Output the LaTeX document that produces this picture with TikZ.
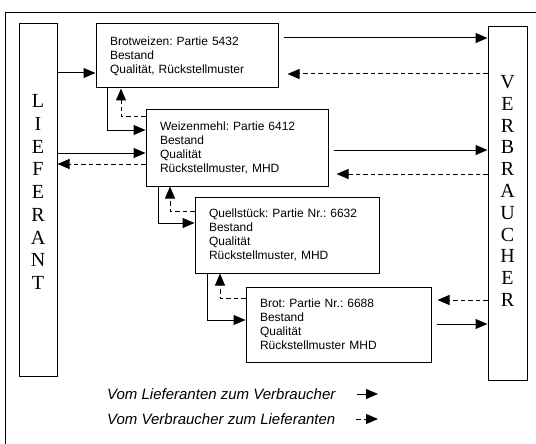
\documentclass[tikz,border=0pt]{standalone}
\usepackage{fontspec}
\setmainfont{Liberation Serif}
\setsansfont{Liberation Sans}
\usetikzlibrary{arrows.meta,calc}
\frenchspacing
\tikzset{
  sbox/.style={draw, line width=1pt, rectangle, inner xsep=14pt, inner ysep=0pt, align=left,
    font=\sffamily\fontsize{12}{14}\selectfont},
  colbox/.style={draw, line width=1pt, rectangle, inner sep=0pt},
  colletters/.style={align=center, inner sep=0pt},
  flow/.style={line width=1pt, -{Triangle[length=12pt,width=10pt]}},
  back/.style={flow, dash pattern=on 4.5pt off 3pt},
  legendtext/.style={anchor=west, inner sep=0pt, font=\sffamily\itshape\fontsize{15}{17}\selectfont},
  frame/.style={line width=0.7pt}
}
\begin{document}
\begin{tikzpicture}[x=1pt,y=-1pt]
\useasboundingbox (0,0) rectangle (536,444);
% outer frame (top and left only)
\draw[frame] (536,12) -- (5,12) -- (5,444);

% side columns
\node[colbox, minimum width=38, minimum height=352] (lief) at (38,200) {};
\node[colletters, font=\rmfamily\fontsize{20}{22.75}\selectfont] (lieftext) at (38,192)
  {L\\I\\E\\F\\E\\R\\A\\N\\T};
\node[colbox, minimum width=39, minimum height=353] (verb) at (507.5,203.5) {};
\node[colletters, font=\rmfamily\fontsize{20}{21.8}\selectfont] (verbtext) at (507.5,191)
  {V\\E\\R\\B\\R\\A\\U\\C\\H\\E\\R};

% boxes
\node[sbox, text width=154, minimum height=64] (b1) at (187,56)
  {Brotweizen: Partie 5432\\Bestand\\Qualität, Rückstellmuster};
\node[sbox, text width=154, minimum height=76] (b2) at (237,148)
  {Weizenmehl: Partie 6412\\Bestand\\Qualität\\Rückstellmuster, MHD};
\node[sbox, text width=156, minimum height=76] (b3) at (287,235)
  {Quellstück: Partie Nr.: 6632\\Bestand\\Qualität\\Rückstellmuster, MHD};
\node[sbox, text width=157, minimum height=75] (b4) at (338.5,324.5)
  {Brot: Partie Nr.: 6688\\Bestand\\Qualität\\Rückstellmuster MHD};

% connectors
\draw[flow] (lief.east |- 0,73) -- (b1.west |- 0,73);
\draw[flow] ($(b1.east |- 0,38)+(5,0)$) -- (verb.west |- 0,38);
\draw[back] (verb.west |- 0,74) -- ($(b1.east |- 0,74)+(9,0)$);

\draw[flow] (b1.south -| 107,0) |- (b2.west |- 0,130);
\draw[back] (b2.west |- 0,117) -| (b1.south -| 121,0);
\draw[flow] (lief.east |- 0,153) -- (b2.west |- 0,153);
\draw[back] (b2.west |- 0,164) -- (lief.east |- 0,164);
\draw[flow] ($(b2.east |- 0,150)+(5,0)$) -- (verb.west |- 0,150);
\draw[back] (verb.west |- 0,174) -- ($(b2.east |- 0,174)+(8,0)$);

\draw[flow] (b2.south -| 158,0) |- (b3.west |- 0,223);
\draw[back] (b3.west |- 0,211) -| (b2.south -| 170,0);

\draw[flow] (b3.south -| 207,0) |- (b4.west |- 0,320);
\draw[back] (b4.west |- 0,298) -| (b3.south -| 220,0);
\draw[back] (verb.west |- 0,300) -- ($(b4.east |- 0,300)+(6,0)$);
\draw[flow] ($(b4.east |- 0,324)+(5,0)$) -- (verb.west |- 0,324);

% legend
\node[legendtext] (leg1) at (107,394) {Vom Lieferanten zum Verbraucher};
\node[legendtext] (leg2) at (107,419) {Vom Verbraucher zum Lieferanten};
\coordinate (l1s) at (357,394);
\coordinate (l1e) at (378,394);
\coordinate (l2s) at (356,419);
\coordinate (l2e) at (378,419);
\draw[flow] (l1s) -- (l1e);
\draw[back] (l2s) -- (l2e);
\end{tikzpicture}
\end{document}
